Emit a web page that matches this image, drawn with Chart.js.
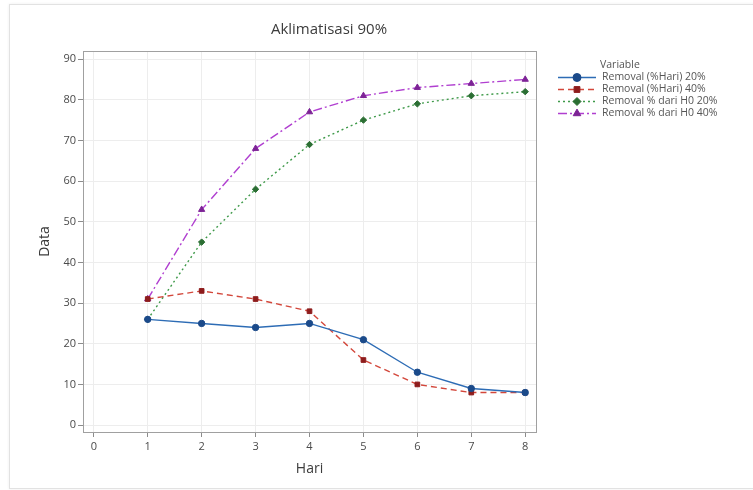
<!DOCTYPE html>
<html>
<head>
<meta charset="utf-8">
<script src="https://cdn.jsdelivr.net/npm/chart.js@4/dist/chart.umd.min.js"></script>
<style>
  body { margin: 0; background: #fff; }
  #wrap { position: relative; width: 753px; height: 490px; overflow: hidden; }
  #frame { position: absolute; left: 9px; top: 4px; width: 760px; height: 483px; border: 1px solid #e2e2e2; box-shadow: 0 0 3px #eee; }
  #c { position: absolute; left: 0; top: 0; }
</style>
</head>
<body>
<div id="wrap">
  <div id="frame"></div>
  <canvas id="c" width="753" height="490"></canvas>
</div>
<script>
// data
var hari = [1, 2, 3, 4, 5, 6, 7, 8];
var removalHari20 = [26, 25, 24, 25, 21, 13, 9, 8];
var removalHari40 = [31, 33, 31, 28, 16, 10, 8, 8];
var removalH020 = [26, 45, 58, 69, 75, 79, 81, 82];
var removalH040 = [31, 53, 68, 77, 81, 83, 84, 85];
var seriesNames = ['Removal (%Hari) 20%', 'Removal (%Hari) 40%', 'Removal % dari H0 20%', 'Removal % dari H0 40%'];
var xTicks = [0, 1, 2, 3, 4, 5, 6, 7, 8];
var yTicks = [0, 10, 20, 30, 40, 50, 60, 70, 80, 90];

var FONT = '"Open Sans", "Noto Sans", sans-serif';

function points(ys){
  var out = [];
  for (var i = 0; i < hari.length; i++) out.push({x: hari[i], y: ys[i]});
  return out;
}

function series(name, ys, line, marker, dash, style, radius){
  return {
    label: name,
    data: points(ys),
    borderColor: line,
    borderWidth: 1.4,
    borderDash: dash,
    pointStyle: style,
    pointRadius: radius,
    pointBackgroundColor: marker,
    pointBorderColor: marker,
    pointBorderWidth: 1,
    tension: 0
  };
}

function setTicks(list){
  return function(scale){
    scale.ticks = list.map(function(v){ return {value: v}; });
  };
}

// title, legend and the closed plot box
var decor = {
  id: 'decor',
  afterDraw: function(chart){
    var ctx = chart.ctx, a = chart.chartArea;
    ctx.save();
    ctx.strokeStyle = '#a0a0a0';
    ctx.lineWidth = 1;
    ctx.strokeRect(Math.round(a.left) + 0.5, Math.round(a.top) + 0.5, Math.round(a.right - a.left), Math.round(a.bottom - a.top));

    ctx.fillStyle = '#3c3c3c';
    ctx.font = '15px ' + FONT;
    ctx.textAlign = 'center';
    ctx.textBaseline = 'middle';
    ctx.fillText('Aklimatisasi 90%', 329, 30);

    ctx.font = '10.5px ' + FONT;
    ctx.textAlign = 'left';
    ctx.fillStyle = '#555';
    ctx.fillText('Variable', 600, 65);
    var ds = chart.data.datasets;
    for (var i = 0; i < ds.length; i++) {
      var y = 77 + i * 12;
      ctx.strokeStyle = ds[i].borderColor;
      ctx.lineWidth = ds[i].borderWidth;
      ctx.setLineDash(ds[i].borderDash);
      ctx.beginPath();
      ctx.moveTo(558, y + 0.5);
      ctx.lineTo(596, y + 0.5);
      ctx.stroke();
      ctx.setLineDash([]);
      ctx.fillStyle = ds[i].pointBackgroundColor;
      ctx.strokeStyle = ds[i].pointBorderColor;
      ctx.lineWidth = 1;
      Chart.helpers.drawPoint(ctx, {pointStyle: ds[i].pointStyle, radius: ds[i].pointRadius + 0.8, borderWidth: 1}, 577, y + 0.5);
      ctx.fillStyle = '#555';
      ctx.fillText(ds[i].label, 602, y);
    }
    ctx.restore();
  }
};

var gridCfg = { color: '#ededed', tickColor: '#8c8c8c', tickLength: 5 };
var tickFont = { family: FONT, size: 11 };

new Chart(document.getElementById('c'), {
  type: 'line',
  data: {
    datasets: [
      series(seriesNames[0], removalHari20, '#2d6cb5', '#1b4a8a', [], 'circle', 3.2),
      series(seriesNames[1], removalHari40, '#d3473b', '#8e1c1c', [6, 4], 'rect', 3.3),
      series(seriesNames[2], removalH020, '#3f9a4a', '#2b6e33', [2, 3], 'rectRot', 3.2),
      series(seriesNames[3], removalH040, '#b03fd0', '#7d2396', [9, 3, 2, 3], 'triangle', 3.6)
    ]
  },
  options: {
    responsive: false,
    animation: false,
    layout: { padding: { left: 10, top: 51, right: 217, bottom: 5 } },
    plugins: { legend: { display: false }, title: { display: false }, tooltip: { enabled: false } },
    scales: {
      x: {
        type: 'linear',
        min: -0.2,
        max: 8.2,
        afterBuildTicks: setTicks(xTicks),
        afterFit: function(s){ s.height = 53; },
        grid: gridCfg,
        border: { color: '#a0a0a0' },
        ticks: { color: '#4a4a4a', font: tickFont, padding: 3, maxRotation: 0 },
        title: { display: true, text: 'Hari', color: '#3c3c3c', font: { family: FONT, size: 14 }, padding: { top: 0, bottom: 7.6 } }
      },
      y: {
        type: 'linear',
        min: -1.7,
        max: 92,
        afterBuildTicks: setTicks(yTicks),
        afterFit: function(s){ s.width = 73; },
        grid: gridCfg,
        border: { color: '#a0a0a0' },
        ticks: { color: '#4a4a4a', font: tickFont, padding: 2 },
        title: { display: true, text: 'Data', color: '#3c3c3c', font: { family: FONT, size: 14 }, padding: { top: 26.6, bottom: 0 } }
      }
    }
  },
  plugins: [decor]
});
</script>
</body>
</html>
